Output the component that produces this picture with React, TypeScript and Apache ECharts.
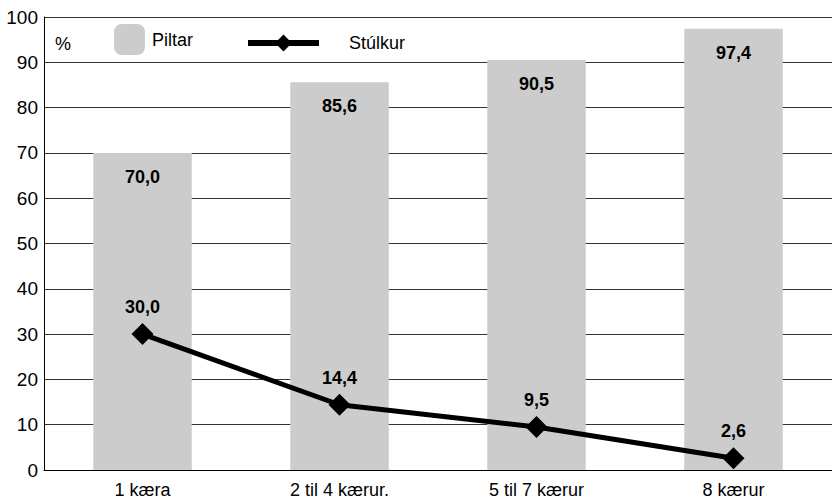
import React, { useEffect, useRef } from "react";
import * as echarts from "echarts";

const categories = ["1 kæra", "2 til 4 kærur.", "5 til 7 kærur", "8 kærur"];
const piltar = [70.0, 85.6, 90.5, 97.4];
const stulkur = [30.0, 14.4, 9.5, 2.6];
const yTicks = { min: 0, max: 100, interval: 10 };

const fmt = (v: number) => v.toFixed(1).replace(".", ",");

export default function App() {
  const ref = useRef<HTMLDivElement>(null);
  useEffect(() => {
    if (!ref.current) return;
    const chart = echarts.init(ref.current, undefined, { renderer: "svg" });
    const font = "'Liberation Sans', Arial, sans-serif";
    chart.setOption({
      animation: false,
      textStyle: { fontFamily: font },
      grid: { left: 44, right: 0, top: 17, bottom: 31 },
      legend: [
        {
          data: ["Piltar"],
          left: 114,
          top: 24,
          padding: 0,
          itemWidth: 31,
          itemHeight: 31,
          itemGap: 0,
          textStyle: { fontFamily: font, fontSize: 18, color: "#000", padding: [0, 0, 0, 2] },
        },
        {
          data: ["Stúlkur"],
          left: 245,
          top: 34,
          padding: 0,
          itemWidth: 71,
          itemHeight: 21,
          lineStyle: { width: 6, color: "#000" },
          textStyle: { fontFamily: font, fontSize: 18, color: "#000", padding: [0, 0, 0, 25] },
        },
      ],
      graphic: [
        {
          type: "text",
          left: 55,
          top: 35,
          style: { text: "%", fontFamily: font, fontSize: 18, fill: "#000" },
        },
      ],
      xAxis: {
        type: "category",
        data: categories,
        axisLine: { show: true, lineStyle: { color: "#000", width: 1 } },
        axisTick: { show: false },
        axisLabel: { color: "#000", fontSize: 18, fontFamily: font, margin: 11 },
      },
      yAxis: {
        type: "value",
        min: yTicks.min,
        max: yTicks.max,
        interval: yTicks.interval,
        axisLine: { show: true, lineStyle: { color: "#000", width: 1 } },
        axisTick: { show: false },
        axisLabel: { color: "#000", fontSize: 19, fontFamily: font, margin: 6 },
        splitLine: { show: true, lineStyle: { color: "#333", width: 1 } },
      },
      series: [
        {
          name: "Piltar",
          type: "bar",
          data: piltar,
          barWidth: "50%",
          itemStyle: { color: "#cccccc" },
          label: {
            show: true,
            position: "insideTop",
            distance: 15,
            formatter: (p: any) => fmt(p.value),
            fontWeight: "bold",
            fontSize: 18,
            color: "#000",
            fontFamily: font,
          },
        },
        {
          name: "Stúlkur",
          type: "line",
          data: stulkur,
          symbol: "diamond",
          symbolSize: 22,
          lineStyle: { color: "#000", width: 5 },
          itemStyle: { color: "#000" },
          label: {
            show: true,
            position: "top",
            distance: 7,
            formatter: (p: any) => fmt(p.value),
            fontWeight: "bold",
            fontSize: 18,
            color: "#000",
            fontFamily: font,
          },
        },
      ],
    });
    return () => chart.dispose();
  }, []);
  return <div ref={ref} style={{ width: 832, height: 501, position: "absolute", left: 0, top: 0 }} />;
}
